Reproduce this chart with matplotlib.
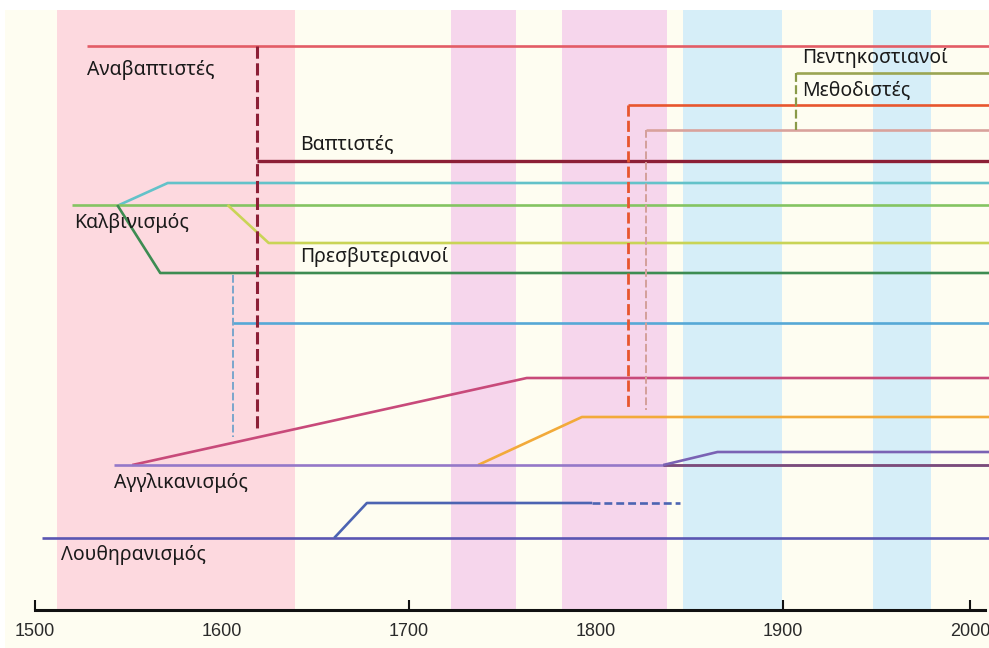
import matplotlib
matplotlib.use("Agg")
import matplotlib.pyplot as plt
from matplotlib.patches import Rectangle

# ---------------- data ----------------
tick_years = [1500, 1600, 1700, 1800, 1900, 2000]
tick_marks = [1500, 1700, 1900, 2000]

# background period bands (start year, end year, colour)
band_start = [1512, 1722.5, 1782, 1846.5, 1948]
band_end = [1639, 1757, 1838, 1899.5, 1979]
band_colors = ["#fdd9df", "#f6d6ec", "#f6d6ec", "#d6eef8", "#d6eef8"]

# solid lines: year breakpoints and lane levels
line_years = {
    "anabaptist": [1528, 2010.2],
    "pentecostal": [1907, 2010.2],
    "methodist": [1817, 2010.2],
    "tan": [1827, 2010.2],
    "baptist": [1619, 2010.2],
    "cyan": [1545, 1571, 2010.2],
    "calvin": [1520, 2010.2],
    "presby": [1603, 1625, 2010.2],
    "darkgreen": [1544, 1567, 2010.2],
    "blue": [1606, 2010.2],
    "crimson": [1552, 1763, 2010.2],
    "orange": [1737, 1792.5, 2010.2],
    "anglican": [1542, 2010.2],
    "anglican2": [1836, 2010.2],
    "purple": [1836, 1865, 2010.2],
    "lutheran": [1504, 2010.2],
    "lutheran2": [1660, 1677.5, 1798],
}
line_levels = {
    "anabaptist": [46, 46],
    "pentecostal": [73, 73],
    "methodist": [105, 105],
    "tan": [130, 130],
    "baptist": [161, 161],
    "cyan": [205, 183, 183],
    "calvin": [205, 205],
    "presby": [205, 243, 243],
    "darkgreen": [205, 273, 273],
    "blue": [323, 323],
    "crimson": [465, 378, 378],
    "orange": [465, 417, 417],
    "anglican": [465, 465],
    "anglican2": [465, 465],
    "purple": [465, 452, 452],
    "lutheran": [538, 538],
    "lutheran2": [538, 503, 503],
}
line_colors = {
    "anabaptist": "#e35c66",
    "pentecostal": "#9ba552",
    "methodist": "#e8562e",
    "tan": "#d9a29c",
    "baptist": "#8c1f36",
    "cyan": "#63c2c9",
    "calvin": "#84c462",
    "presby": "#c9d456",
    "darkgreen": "#3d8c52",
    "blue": "#56a8d6",
    "crimson": "#c84a7a",
    "orange": "#f2aa3a",
    "anglican": "#9478c8",
    "anglican2": "#7c4c78",
    "purple": "#7a62b4",
    "lutheran": "#5a56b2",
    "lutheran2": "#4c64b2",
}
line_widths = {"baptist": 2.4}

# dashed connectors: year, top level, bottom level
dash_year = [1619, 1907, 1817, 1827, 1606]
dash_top = [46, 73, 105, 130, 275]
dash_bottom = [431, 130, 407, 410, 437]
dash_colors = ["#8c1f36", "#8a9a48", "#e8562e", "#d4a09a", "#7aa6cc"]
dash_widths = [2.2, 1.6, 2.0, 1.4, 1.4]

# dashed horizontal continuation (Lutheran branch)
hdash_years = [1798, 1845]
hdash_level = 503

# labels
label_text = ["Αναβαπτιστές", "Πεντηκοστιανοί", "Μεθοδιστές", "Βαπτιστές",
              "Καλβινισμός", "Πρεσβυτεριανοί", "Αγγλικανισμός", "Λουθηρανισμός"]
label_year = [1528, 1910, 1910, 1642, 1521, 1642, 1542, 1514]
label_level = [70, 58, 90, 144, 223, 257, 483, 555]

# ---------------- figure ----------------
W, H = 989, 648
fig = plt.figure(figsize=(W / 100, H / 100), dpi=100, facecolor="white")
ax = fig.add_axes([0, 0, 1, 1])
ax.set_xlim(1481.3, 2010.2)
ax.set_ylim(H, 0)
ax.set_facecolor("white")

# cream background
ax.add_patch(Rectangle((1484, 10), 2010.2 - 1484, H - 10, facecolor="#fefdf1",
                       edgecolor="none", zorder=0))

axis_y = 610
for s, e, c in zip(band_start, band_end, band_colors):
    ax.add_patch(Rectangle((s, 10), e - s, axis_y - 10, facecolor=c,
                           edgecolor="none", zorder=1))

for k in line_years:
    ax.plot(line_years[k], line_levels[k], color=line_colors[k],
            lw=line_widths.get(k, 1.9), solid_capstyle="butt",
            solid_joinstyle="round", zorder=3)

for x, t, b, c, w in zip(dash_year, dash_top, dash_bottom, dash_colors, dash_widths):
    ax.plot([x, x], [t, b], color=c, lw=w, ls=(0, (4, 1.5)), zorder=4)

ax.plot(hdash_years, [hdash_level, hdash_level], color="#4c64b2", lw=1.9,
        ls=(0, (3, 1.5)), zorder=3)

for t, x, y in zip(label_text, label_year, label_level):
    ax.text(x, y, t, fontsize=14, family=["Noto Sans", "DejaVu Sans"],
            color="#1a1a1a", ha="left", va="center", zorder=5)

# time axis
for side in ["top", "left", "right"]:
    ax.spines[side].set_visible(False)
ax.spines["bottom"].set_position(("data", axis_y))
ax.spines["bottom"].set_bounds(1500, 2008)
ax.spines["bottom"].set_linewidth(2.2)
ax.spines["bottom"].set_color("#111111")
ax.spines["bottom"].set_zorder(6)
ax.set_yticks([])
ax.xaxis.remove_overlapping_locs = False
ax.set_xticks(tick_years)
ax.set_xticklabels([str(y) for y in tick_years])
ax.tick_params(axis="x", which="major", length=0, pad=9, labelsize=13,
               labelcolor="#2a2a2a")
ax.set_xticks(tick_marks, minor=True)
ax.tick_params(axis="x", which="minor", length=7, width=1.5, direction="in",
               color="#111111")
for lab in ax.get_xticklabels():
    lab.set_family(["Liberation Sans Narrow", "Liberation Sans"])

fig.savefig("out.png", dpi=100, facecolor="white")
